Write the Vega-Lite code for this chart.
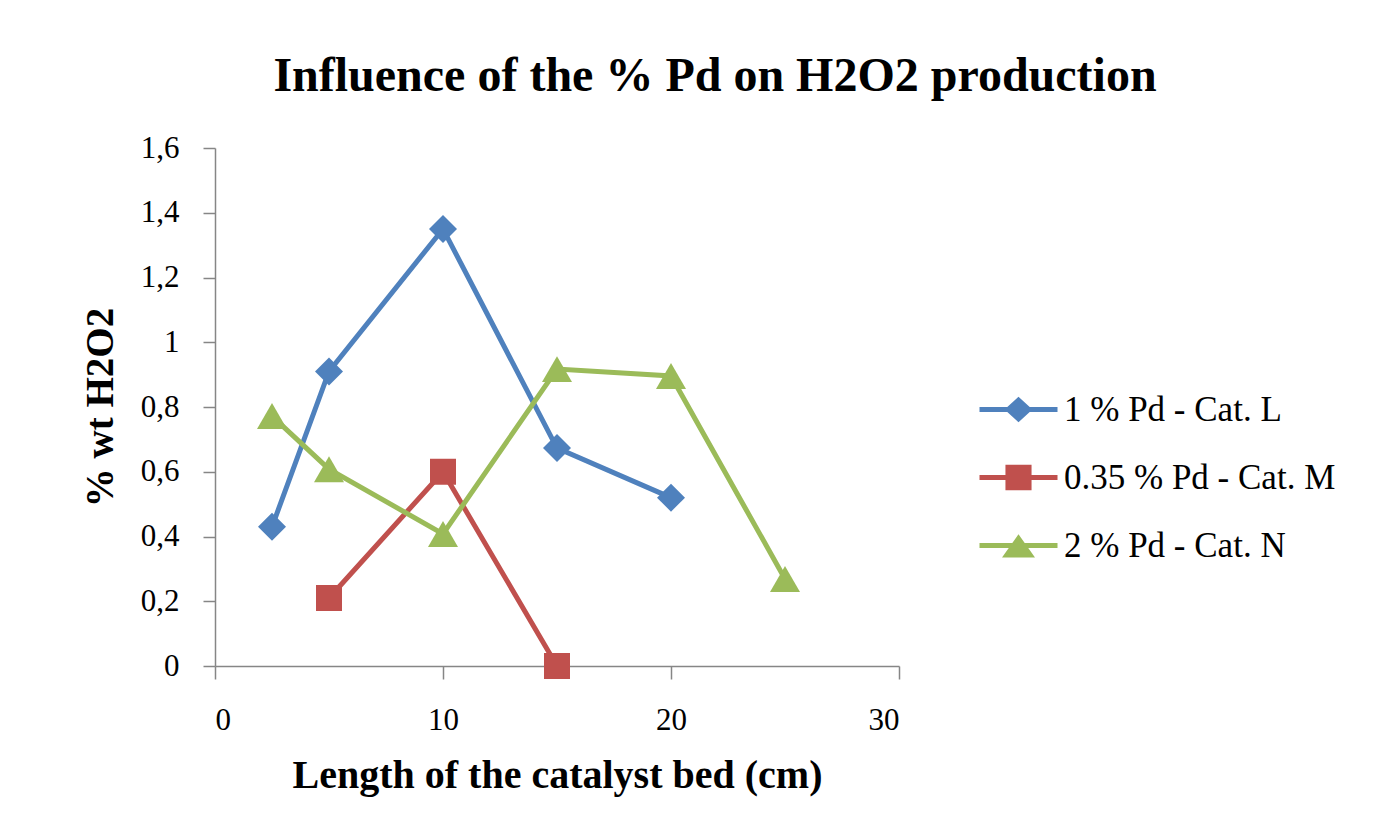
{
  "$schema": "https://vega.github.io/schema/vega-lite/v6.json",
  "autosize": {"type": "none"},
  "width": 684,
  "height": 518,
  "padding": {"left": 215, "top": 148, "right": 489, "bottom": 156},
  "background": "white",
  "config": {
    "font": "Liberation Serif",
    "view": {"stroke": null},
    "axis": {"grid": false, "domainColor": "#868686", "tickColor": "#868686", "domainWidth": 1.5, "tickWidth": 1.5, "labelColor": "#000000", "titleColor": "#000000", "labelFont": "Liberation Serif", "titleFont": "Liberation Serif"}
  },
  "title": {
    "text": "Influence of the % Pd on H2O2 production",
    "font": "Liberation Serif",
    "fontSize": 48,
    "fontWeight": "bold",
    "color": "#000000",
    "anchor": "middle",
    "frame": "group",
    "dx": 158,
    "offset": 31
  },
  "data": {
    "values": [
      {"x": 2.5, "y": 0.43, "s": "1 % Pd - Cat. L"},
      {"x": 5, "y": 0.91, "s": "1 % Pd - Cat. L"},
      {"x": 10, "y": 1.35, "s": "1 % Pd - Cat. L"},
      {"x": 15, "y": 0.673, "s": "1 % Pd - Cat. L"},
      {"x": 20, "y": 0.52, "s": "1 % Pd - Cat. L"},
      {"x": 5, "y": 0.21, "s": "0.35 % Pd - Cat. M"},
      {"x": 10, "y": 0.6, "s": "0.35 % Pd - Cat. M"},
      {"x": 15, "y": 0.0, "s": "0.35 % Pd - Cat. M"},
      {"x": 2.5, "y": 0.772, "s": "2 % Pd - Cat. N"},
      {"x": 5, "y": 0.608, "s": "2 % Pd - Cat. N"},
      {"x": 10, "y": 0.408, "s": "2 % Pd - Cat. N"},
      {"x": 15, "y": 0.917, "s": "2 % Pd - Cat. N"},
      {"x": 20, "y": 0.896, "s": "2 % Pd - Cat. N"},
      {"x": 25, "y": 0.269, "s": "2 % Pd - Cat. N"}
    ]
  },
  "encoding": {
    "x": {
      "field": "x", "type": "quantitative",
      "scale": {"domain": [0, 30], "nice": false, "zero": false},
      "axis": {"values": [0, 10, 20, 30], "tickSize": 13, "labelPadding": 26, "labelFontSize": 31, "title": "Length of the catalyst bed (cm)", "titleFontSize": 40, "titleFontWeight": "bold", "titlePadding": 20}
    },
    "y": {
      "field": "y", "type": "quantitative",
      "scale": {"domain": [0, 1.6], "nice": false},
      "axis": {"values": [0, 0.2, 0.4, 0.6, 0.8, 1, 1.2, 1.4, 1.6], "tickSize": 12, "labelPadding": 24, "labelFontSize": 31, "labelExpr": "replace(format(datum.value, '~g'), '.', ',')", "title": "% wt H2O2", "titleFontSize": 39, "titleFontWeight": "bold", "titlePadding": 20}
    },
    "color": {
      "field": "s", "type": "nominal",
      "scale": {"domain": ["1 % Pd - Cat. L", "0.35 % Pd - Cat. M", "2 % Pd - Cat. N"], "range": ["#4F81BD", "#C0504D", "#9BBB59"]},
      "legend": {
        "title": null,
        "orient": "none",
        "legendX": 786,
        "legendY": 244,
        "padding": 0,
        "labelFontSize": 35,
        "labelLimit": 0,
        "labelColor": "#000000",
        "labelFont": "Liberation Serif",
        "labelOffset": 28,
        "rowPadding": 32,
        "symbolSize": 900,
        "symbolStrokeWidth": 0,
        "symbolOpacity": 1,
        "encode": {
          "symbols": {
            "update": {
              "shape": {"signal": "datum.value === '1 % Pd - Cat. L' ? 'M-2.6,-0.17H2.6V0.17H-2.6ZM0,-0.85L0.93,0L0,0.85L-0.93,0Z' : datum.value === '0.35 % Pd - Cat. M' ? 'M-2.6,-0.17H2.6V0.17H-2.6ZM-0.87,-0.85H0.87V0.85H-0.87Z' : 'M-2.6,-0.17H2.6V0.17H-2.6ZM0,-0.75L1.1,0.8H-1.1Z'"},
              "size": {"value": 900},
              "strokeWidth": {"value": 0},
              "fill": {"scale": "color", "field": "value"},
              "opacity": {"value": 1}
            }
          }
        }
      }
    }
  },
  "layer": [
    {
      "mark": {"type": "line", "strokeWidth": 5, "clip": false},
      "encoding": {"detail": {"field": "s"}}
    },
    {
      "transform": [{"filter": "datum.s === '1 % Pd - Cat. L'"}],
      "mark": {"type": "point", "filled": true, "opacity": 1, "shape": "diamond", "size": 784, "clip": false}
    },
    {
      "transform": [{"filter": "datum.s === '0.35 % Pd - Cat. M'"}],
      "mark": {"type": "point", "filled": true, "opacity": 1, "shape": "square", "size": 676, "clip": false}
    },
    {
      "transform": [{"filter": "datum.s === '2 % Pd - Cat. N'"}],
      "mark": {"type": "point", "filled": true, "opacity": 1, "shape": "triangle-up", "size": 900, "clip": false}
    }
  ]
}
